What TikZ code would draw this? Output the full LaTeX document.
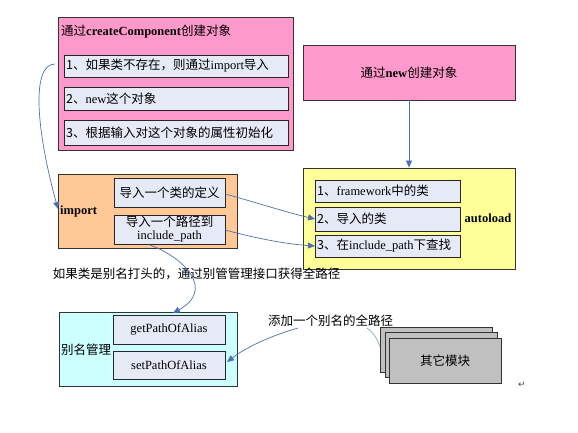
\documentclass[tikz,border=0pt]{standalone}
\usepackage{fontspec}
\setmainfont{Liberation Serif}
\newfontfamily\cjk{Noto Sans CJK SC}
\newfontfamily\symf{DejaVu Sans}
\newcommand\lt[1]{{\rmfamily #1}}
\usetikzlibrary{arrows.meta}
\definecolor{pinkbox}{HTML}{FF99CC}
\definecolor{subbox}{HTML}{E6EAF6}
\definecolor{orangebox}{HTML}{FFC896}
\definecolor{yellowbox}{HTML}{FFFF99}
\definecolor{cyanbox}{HTML}{CCFFFF}
\definecolor{graybox}{HTML}{C0C0C0}
\definecolor{arrowblue}{HTML}{4A72B0}
\tikzset{
  outer/.style={draw=black!80, line width=0.8pt, inner sep=0pt},
  inner/.style={draw=black!85, line width=0.8pt, fill=subbox, inner sep=0pt},
  conn/.style={draw=arrowblue, line width=0.7pt, -{Triangle[length=7pt,width=6pt]}},
  plain/.style={draw=arrowblue!70, line width=0.6pt},
  txt/.style={font=\cjk\fontsize{12.5}{14}\selectfont, inner sep=0pt}
}
\begin{document}
\begin{tikzpicture}[x=1pt,y=-1pt]
\useasboundingbox (0,0) rectangle (578,432);
% create component box
\node[outer, fill=pinkbox, minimum width=235pt, minimum height=133pt] (cbox) at (175.5,83.5) {};
\node[txt, anchor=west] (ctitle) at (61,32) {通过\lt{\bfseries createComponent}创建对象};
\node[inner, minimum width=224pt, minimum height=22pt] (c1) at (176,66) {};
\node[txt, anchor=west] (c1t) at (66,66) {1、如果类不存在，则通过\lt{import}导入};
\node[inner, minimum width=224pt, minimum height=23pt] (c2) at (176,98.5) {};
\node[txt, anchor=west] (c2t) at (66,98.5) {2、\lt{new}这个对象};
\node[inner, minimum width=224pt, minimum height=25pt] (c3) at (176,132.5) {};
\node[txt, anchor=west] (c3t) at (66,132.5) {3、根据输入对这个对象的属性初始化};
% new box
\node[outer, fill=pinkbox, minimum width=212pt, minimum height=55pt, txt] (nbox) at (409,72.5) {通过\lt{\bfseries new}创建对象};
% autoload box
\node[outer, fill=yellowbox, minimum width=212pt, minimum height=101pt] (abox) at (409,218.5) {};
\node[inner, minimum width=145pt, minimum height=22pt] (a1) at (387.5,191) {};
\node[txt, anchor=west] (a1t) at (317,191) {1、\lt{framework}中的类};
\node[inner, minimum width=145pt, minimum height=24pt] (a2) at (387.5,219) {};
\node[txt, anchor=west] (a2t) at (317,219) {2、导入的类};
\node[inner, minimum width=145pt, minimum height=22pt] (a3) at (387.5,246) {};
\node[txt, anchor=west] (a3t) at (317,246) {3、在\lt{include\_path}下查找};
\node[txt] (alab) at (488,218) {\lt{\bfseries autoload}};
% import box
\node[outer, fill=orangebox, minimum width=179pt, minimum height=74pt] (ibox) at (147.5,211) {};
\node[txt, anchor=west] (ilab) at (60,211) {\lt{\bfseries import}};
\node[inner, minimum width=111pt, minimum height=29pt, txt] (i1) at (169.5,192.5) {导入一个类的定义};
\node[inner, minimum width=111pt, minimum height=29pt, txt, align=center] (i2) at (169.5,229.5) {导入一个路径到\\[-1pt]\lt{include\_path}};
% alias box
\node[outer, fill=cyanbox, minimum width=178pt, minimum height=74pt] (gbox) at (148,349) {};
\node[txt, anchor=west] (glab) at (61,350) {别名管理};
\node[inner, minimum width=112pt, minimum height=29pt, txt] (g1) at (169,329.5) {\lt{getPathOfAlias}};
\node[inner, minimum width=112pt, minimum height=28pt, txt] (g2) at (169,365) {\lt{setPathOfAlias}};
% other modules
\node[outer, fill=graybox, minimum width=112pt, minimum height=45pt] (m3) at (436,349.5) {};
\node[outer, fill=graybox, minimum width=112pt, minimum height=45pt] (m2) at (441,354.5) {};
\node[outer, fill=graybox, minimum width=112pt, minimum height=45pt, txt] (m1) at (445,360.5) {其它模块};
% labels
\node[txt] (lab1) at (196.5,274) {如果类是别名打头的，通过别管管理接口获得全路径};
\node[txt] (lab2) at (330.5,321) {添加一个别名的全路径};
\node[font=\symf\fontsize{9}{9}\selectfont, inner sep=0pt, text=black!70] (ret) at (522,385) {↵};
% connectors
\coordinate (c1s) at (55,64);
\coordinate (iin) at (58,209);
\draw[conn] (c1s) .. controls (32,64) and (35,125) .. (iin);
\draw[conn] (nbox.south) -- (abox.north);
\coordinate (i1e) at (225,194);
\coordinate (a2w) at (315,219);
\draw[conn] (i1e) .. controls (255,202) and (285,212) .. (a2w);
\coordinate (i2e) at (225,230);
\coordinate (a3w) at (315,246);
\draw[conn] (i2e) .. controls (255,238) and (285,244) .. (a3w);
\coordinate (i2s) at (150,245);
\coordinate (gtop) at (173,313);
\draw[conn] (i2s) .. controls (185,258) and (215,290) .. (gtop);
\coordinate (l2s) at (298,328);
\coordinate (g2e) at (227,362);
\draw[conn] (l2s) .. controls (270,336) and (245,348) .. (g2e);
\coordinate (l2e) at (367,328);
\coordinate (m3w) at (380,347);
\draw[plain] (l2e) .. controls (374,333) and (378,340) .. (m3w);
\end{tikzpicture}
\end{document}
